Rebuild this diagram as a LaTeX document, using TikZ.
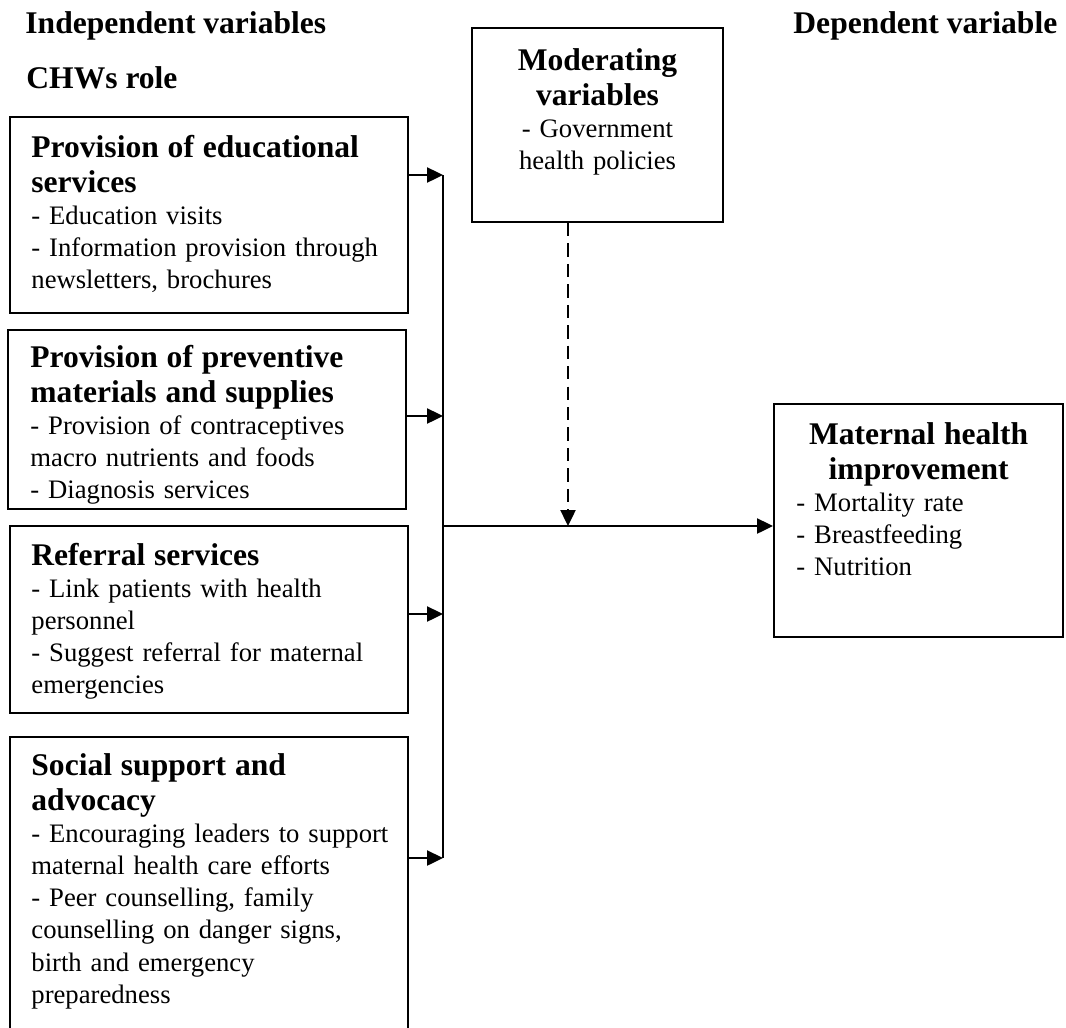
\documentclass[tikz,border=0pt]{standalone}
\usepackage{fontspec}
\setmainfont{Liberation Serif}
\usetikzlibrary{arrows.meta,fit}
\newcommand{\hd}{\fontsize{14.2}{15.75}\selectfont\bfseries}
\newcommand{\bd}{\fontsize{12}{14.5}\selectfont}

\begin{document}
\begin{tikzpicture}[x=0.45pt, y=-0.45pt,
	box/.style={draw, line width=0.9pt, inner sep=0pt},
	txt/.style={anchor=base west, inner sep=0pt, text width=170pt, align=left, font=\bd},
	title/.style={anchor=base west, inner sep=0pt, font=\hd},
	link/.style={line width=0.9pt, -{Triangle[length=7.2pt,width=6.8pt]}}]

\path[use as bounding box, clip] (0,0) rectangle (1066,1027);

% column titles
	\node[title] (indep) at (25,33) {Independent variables};
	\node[title] (dep) at (793,33) {Dependent variable};
	\node[title] (chw) at (26,88) {CHWs role};

% CHWs role boxes
\node[box, fit={(10,117) (408,313)}] (edu) {};
\node[txt] (edutxt) at (31,157) {{\hd Provision of educational\\ services\par}
	- Education visits\\ - Information provision through\\ newsletters, brochures};

\node[box, fit={(8,330) (406,509)}] (prev) {};
\node[txt] (prevtxt) at (30,367) {{\hd Provision of preventive\\ materials and supplies\par}
	- Provision of contraceptives\\ macro nutrients and foods\\ - Diagnosis services};

\node[box, fit={(10,526) (408,713)}] (ref) {};
\node[txt] (reftxt) at (31,565) {{\hd Referral services\par}
	- Link patients with health\\ personnel\\ - Suggest referral for maternal\\ emergencies};

\node[box, fit={(10,737) (408,1060)}] (soc) {};
\node[txt] (soctxt) at (31,775) {{\hd Social support and\\ advocacy\par}
	- Encouraging leaders to support\\ maternal health care efforts\\ - Peer counselling, family\\
	counselling on danger signs,\\ birth and emergency\\ preparedness};

% moderating variables
\node[box, fit={(472,28) (723,222)}] (mod) {};
\node[txt, anchor=base, text width=103pt, align=center] (modtxt) at (597.5,70)
	{{\hd Moderating\\ variables\par} - Government\\ health policies};

% dependent variable
\node[box, fit={(774,404) (1063,637)}] (mat) {};
\node[txt, text width=110pt] (mattxt) at (796,444)
	{{\hd\centering Maternal health\\ improvement\par}
	- Mortality rate\\ - Breastfeeding\\ - Nutrition};

% collecting line
\coordinate (b1) at (443,175);
\coordinate (b2) at (443,416);
\coordinate (b3) at (443,614);
\coordinate (b4) at (443,858);
\coordinate (j) at (443,526);
\coordinate (m) at (568,526);

\draw[line width=0.9pt] (b1) -- (b4);
\draw[link] (edu.east |- b1) -- (b1);
\draw[link] (prev.east |- b2) -- (b2);
\draw[link] (ref.east |- b3) -- (b3);
\draw[link] (soc.east |- b4) -- (b4);

% to the outcome
\draw[link] (j) -- (j -| mat.west);
\draw[link, dash pattern=on 6pt off 3.2pt] (mod.south -| m) -- (m);

\end{tikzpicture}
\end{document}
